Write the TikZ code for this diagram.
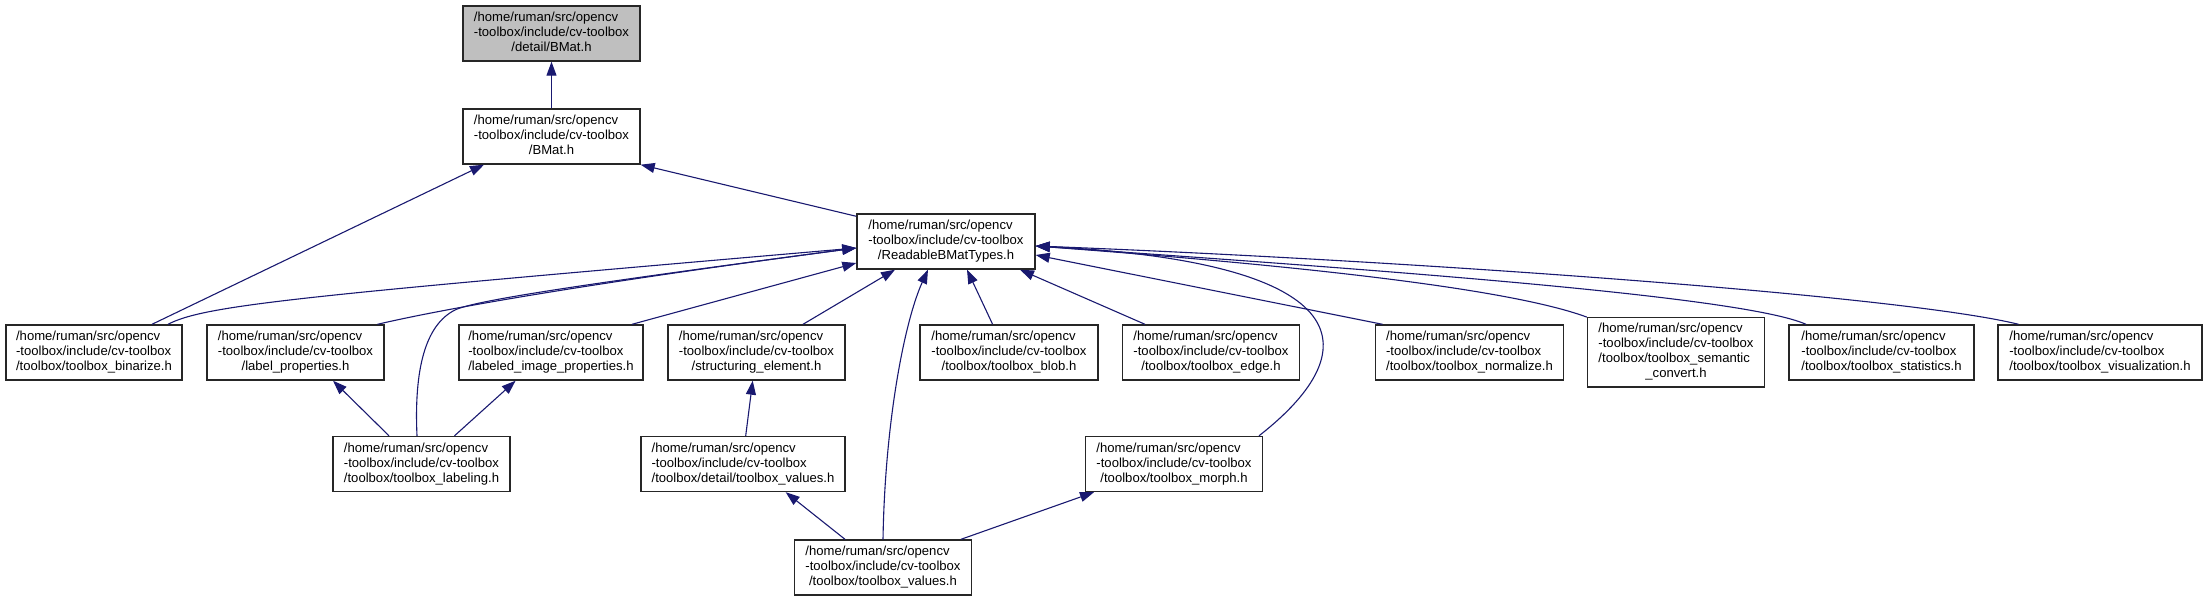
\documentclass[tikz,border=0pt]{standalone}
\usepackage{fontspec}
\setmainfont{Liberation Sans}
\usetikzlibrary{arrows.meta}
\definecolor{edgec}{HTML}{191970}
\definecolor{fillg}{HTML}{BFBFBF}
\newcommand\flbl[3]{\begin{tabular}{@{}l@{}}#1\\#2\\\multicolumn{1}{@{}c@{}}{#3}\end{tabular}}
\newcommand\flblq[4]{\begin{tabular}{@{}l@{}}#1\\#2\\#3\\\multicolumn{1}{@{}c@{}}{#4}\end{tabular}}
\newcommand\pa{/home/ruman/src/opencv}
\newcommand\pb{-toolbox/include/cv-toolbox}
\begin{document}
\begin{tikzpicture}[x=1pt,y=-1pt,
  filebox/.style={draw=black!85, line width=1.4pt, fill=white, inner sep=0pt,
    minimum height=55pt, font=\fontsize{13.1}{15}\selectfont},
  dep/.style={draw=edgec, line width=1.1pt, -{Triangle[length=14pt,width=10pt]}}]
\useasboundingbox (0,0) rectangle (2208,601);

\node[filebox, fill=fillg, minimum width=177pt] (detail) at (551.5,33.5) {\flbl{\pa}{\pb}{/detail/BMat.h}};
\node[filebox, minimum width=177pt] (bmat) at (551.5,136.5) {\flbl{\pa}{\pb}{/BMat.h}};
\node[filebox, minimum width=178pt] (readable) at (946,241.5) {\flbl{\pa}{\pb}{/ReadableBMatTypes.h}};
\node[filebox, minimum width=176pt] (binarize) at (94,352.5) {\flbl{\pa}{\pb}{/toolbox/toolbox\_binarize.h}};
\node[filebox, minimum width=177pt] (labelprop) at (295.5,352.5) {\flbl{\pa}{\pb}{/label\_properties.h}};
\node[filebox, minimum width=184pt] (labeledimg) at (551,352.5) {\flbl{\pa}{\pb}{/labeled\_image\_properties.h}};
\node[filebox, minimum width=177pt] (struct) at (756.5,352.5) {\flbl{\pa}{\pb}{/structuring\_element.h}};
\node[filebox, minimum width=178pt] (blob) at (1009,352.5) {\flbl{\pa}{\pb}{/toolbox/toolbox\_blob.h}};
\node[filebox, minimum width=177pt] (edgeh) at (1211,352.5) {\flbl{\pa}{\pb}{/toolbox/toolbox\_edge.h}};
\node[filebox, minimum width=188pt] (normalize) at (1469.5,352.5) {\flbl{\pa}{\pb}{/toolbox/toolbox\_normalize.h}};
\node[filebox, minimum width=177pt, minimum height=69pt] (semantic) at (1676,352.3) {\flblq{\pa}{\pb}{/toolbox/toolbox\_semantic}{\_convert.h}};
\node[filebox, minimum width=185pt] (statistics) at (1881.5,352.5) {\flbl{\pa}{\pb}{/toolbox/toolbox\_statistics.h}};
\node[filebox, minimum width=204pt] (visual) at (2100,352.5) {\flbl{\pa}{\pb}{/toolbox/toolbox\_visualization.h}};
\node[filebox, minimum width=177pt] (labeling) at (421.5,464) {\flbl{\pa}{\pb}{/toolbox/toolbox\_labeling.h}};
\node[filebox, minimum width=204pt] (dvalues) at (743,464) {\flbl{\pa}{\pb}{/toolbox/detail/toolbox\_values.h}};
\node[filebox, minimum width=177pt] (morph) at (1174,464) {\flbl{\pa}{\pb}{/toolbox/toolbox\_morph.h}};
\node[filebox, minimum width=177pt] (values) at (883,567.5) {\flbl{\pa}{\pb}{/toolbox/toolbox\_values.h}};

\draw[dep] (bmat) -- (detail);
\draw[dep] ([yshift=-3pt]readable.north west) -- (bmat.south east);
\draw[dep] ([xshift=58pt]binarize.north) -- ([xshift=-67.5pt]bmat.south);
\draw[dep] ([xshift=74pt]binarize.north) .. controls (205,305) and (300,296) .. ([yshift=-6.5pt]readable.west);
\draw[dep] ([xshift=82pt]labelprop.north) .. controls (430,312) and (560,287) .. ([yshift=-6.5pt]readable.west);
\draw[dep] ([xshift=-4.5pt]labeling.north) .. controls (414,370) and (425,325) .. (455,310) .. controls (475,300) and (600,282) .. ([yshift=-6.5pt]readable.west);
\draw[dep] ([xshift=81pt]labeledimg.north) -- ([yshift=-21.5pt]readable.west);
\draw[dep] ([xshift=46.5pt]struct.north) -- ([xshift=-51pt]readable.south);
\draw[dep] (values.north) .. controls (885,420) and (905,320) .. ([xshift=-18pt]readable.south);
\draw[dep] ([xshift=-16.4pt]blob.north) -- ([xshift=21pt]readable.south);
\draw[dep] ([xshift=-66pt]edgeh.north) -- ([xshift=74pt]readable.south);
\draw[dep] ([xshift=-87pt]normalize.north) -- ([yshift=-13.5pt]readable.east);
\draw[dep] (semantic.north west) .. controls (1500,285) and (1250,262) .. ([yshift=-4.5pt]readable.east);
\draw[dep] ([xshift=-75.5pt]statistics.north) .. controls (1740,295) and (1350,268) .. ([yshift=-4.5pt]readable.east);
\draw[dep] ([xshift=-81.5pt]visual.north) .. controls (1900,295) and (1400,260) .. ([yshift=-4.5pt]readable.east);
\draw[dep] ([xshift=85pt]morph.north) .. controls (1375,345) and (1350,262) .. ([yshift=-4.5pt]readable.east);
\draw[dep] ([xshift=-32.5pt]labeling.north) -- ([xshift=37.5pt]labelprop.south);
\draw[dep] ([xshift=33pt]labeling.north) -- ([xshift=-35.4pt]labeledimg.south);
\draw[dep] ([xshift=2.7pt]dvalues.north) -- ([xshift=-3.8pt]struct.south);
\draw[dep] ([xshift=-38pt]values.north) -- ([xshift=42.7pt]dvalues.south);
\draw[dep] ([xshift=78pt]values.north) -- ([xshift=-80pt]morph.south);
\end{tikzpicture}
\end{document}
